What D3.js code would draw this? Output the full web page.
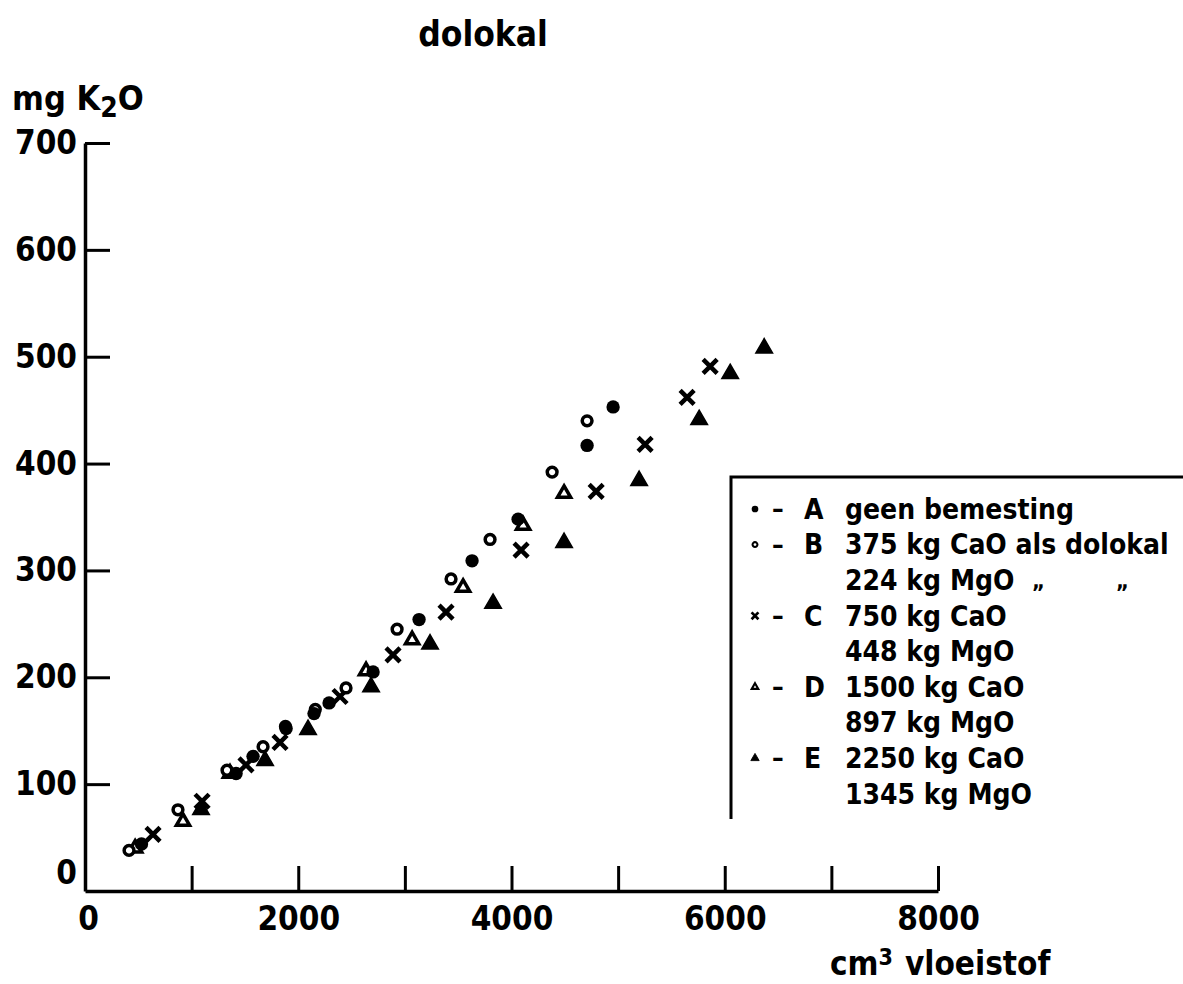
<!DOCTYPE html>
<html>
<head>
<meta charset="utf-8">
<script src="https://cdn.jsdelivr.net/npm/d3@7.9.0/dist/d3.min.js"></script>
<style>
  body { margin: 0; background: #fff; }
  svg text { font-family: "DejaVu Sans Condensed", "DejaVu Sans", sans-serif; font-weight: bold; fill: #000; }
</style>
</head>
<body>
<svg id="chart" width="1183" height="984"></svg>
<script>
// values: [cm3 vloeistof, mg K2O]
const seriesA = [[530, 44], [1417, 110], [1576, 126], [1886, 152], [2148, 166], [2289, 176],
  [2702, 205], [3133, 254], [3630, 309], [4062, 348], [4709, 417], [4953, 453]];
const seriesB = [[413, 38], [872, 76], [1332, 113], [1670, 135], [1880, 154], [2160, 170],
  [2448, 190], [2927, 245], [3433, 292], [3799, 329], [4381, 392], [4709, 440]];
const seriesC = [[638, 53], [1098, 84], [1510, 118], [1829, 139], [2392, 182], [2889, 221],
  [3386, 261], [4090, 319], [4794, 374], [5253, 418], [5647, 462], [5863, 491]];
const seriesD = [[470, 40], [919, 65], [1360, 110], [2636, 206], [3068, 235], [3546, 284],
  [4109, 342], [4493, 372]];
const seriesE = [[1088, 76], [1689, 122], [2092, 151], [2683, 191], [3236, 231], [3827, 269],
  [4493, 326], [5197, 384], [5760, 441], [6051, 484], [6370, 508]];

const xTicks = [0, 1000, 2000, 3000, 4000, 5000, 6000, 7000, 8000];
const xLabels = [0, 2000, 4000, 6000, 8000];
const yTicks = [0, 100, 200, 300, 400, 500, 600, 700];

const legendRows = [
  { mark: 'A', letter: 'A', text: 'geen bemesting' },
  { mark: 'B', letter: 'B', text: '375 kg CaO als dolokal' },
  { mark: null, letter: '', text: '224 kg MgO' },
  { mark: 'C', letter: 'C', text: '750 kg CaO' },
  { mark: null, letter: '', text: '448 kg MgO' },
  { mark: 'D', letter: 'D', text: '1500 kg CaO' },
  { mark: null, letter: '', text: '897 kg MgO' },
  { mark: 'E', letter: 'E', text: '2250 kg CaO' },
  { mark: null, letter: '', text: '1345 kg MgO' }
];

const svg = d3.select('#chart');
const x = d3.scaleLinear().domain([0, 8000]).range([85, 938]);
const y = d3.scaleLinear().domain([0, 700]).range([891, 143]);

// x axis, ticks pointing up into the plot
const xAxis = svg.append('g')
  .attr('transform', `translate(0,${y(0)})`)
  .call(d3.axisBottom(x).tickValues(xTicks).tickSizeInner(-25).tickSizeOuter(0)
    .tickFormat(d => xLabels.includes(d) ? d : ''));
xAxis.select('.domain').attr('stroke', '#000').attr('stroke-width', 3.5);
xAxis.selectAll('.tick line').attr('stroke', '#000').attr('stroke-width', 3);
xAxis.selectAll('.tick text')
  .attr('y', 16).attr('dy', '0.71em')
  .style('font-size', '33px');
xAxis.selectAll('.tick text').filter(d => d === 0).attr('dx', 3);

// y axis, ticks pointing right into the plot
const yAxis = svg.append('g')
  .attr('transform', `translate(${x(0)},0)`)
  .call(d3.axisLeft(y).tickValues(yTicks).tickSizeInner(-25).tickSizeOuter(0));
yAxis.select('.domain').attr('stroke', '#000').attr('stroke-width', 3.5);
yAxis.selectAll('.tick line').attr('stroke', '#000').attr('stroke-width', 3);
yAxis.selectAll('.tick text')
  .attr('x', -8)
  .style('font-size', '33px');
yAxis.selectAll('.tick text').filter(d => d === 0).attr('y', -18);
yAxis.selectAll('.tick').filter(d => d === 0).select('line').remove();

// titles
svg.append('text').attr('x', 483).attr('y', 46).attr('text-anchor', 'middle')
  .style('font-size', '35px').text('dolokal');

const yTitle = svg.append('text').attr('x', 12).attr('y', 110).style('font-size', '34px');
yTitle.append('tspan').text('mg K');
yTitle.append('tspan').attr('dy', 7).style('font-size', '28px').text('2');
yTitle.append('tspan').attr('dy', -7).text('O');

const xTitle = svg.append('text').attr('x', 830).attr('y', 975).style('font-size', '33px');
xTitle.append('tspan').text('cm');
xTitle.append('tspan').attr('dy', -10).style('font-size', '23px').text('3');
xTitle.append('tspan').attr('dy', 10).attr('dx', 12).text('vloeistof');

// marker styles
const styles = {
  A: { type: d3.symbolCircle, size: 140, fill: '#000', stroke: 'none', sw: 0 },
  B: { type: d3.symbolCircle, size: 75, fill: '#fff', stroke: '#000', sw: 3.5 },
  C: { type: d3.symbolTimes, size: 130, fill: 'none', stroke: '#000', sw: 4.5 },
  D: { type: d3.symbolTriangle, size: 75, fill: '#fff', stroke: '#000', sw: 3.5 },
  E: { type: d3.symbolTriangle, size: 120, fill: '#000', stroke: '#000', sw: 1.5 }
};

const allSeries = [['E', seriesE], ['D', seriesD], ['C', seriesC], ['B', seriesB], ['A', seriesA]];
allSeries.forEach(([key, data]) => {
  const s = styles[key];
  svg.append('g').selectAll('path')
    .data(data)
    .join('path')
    .attr('d', d3.symbol().type(s.type).size(s.size))
    .attr('transform', d => `translate(${x(d[0])},${y(d[1])})`)
    .attr('fill', s.fill)
    .attr('stroke', s.stroke)
    .attr('stroke-width', s.sw);
});

// legend box (open at right and bottom)
const lg = svg.append('g');
lg.append('path')
  .attr('d', 'M731,819 V477 H1183')
  .attr('fill', 'none').attr('stroke', '#000').attr('stroke-width', 3);

legendRows.forEach((r, i) => {
  const cy = 509 + i * 35.6;
  if (r.mark) {
    const s = styles[r.mark];
    lg.append('path')
      .attr('d', d3.symbol().type(s.type).size(s.size * 0.25))
      .attr('transform', `translate(755,${cy})`)
      .attr('fill', s.fill).attr('stroke', s.stroke).attr('stroke-width', s.sw * 0.6);
    lg.append('text').attr('x', 772).attr('y', cy).attr('dy', '0.35em')
      .style('font-size', '26px').text('–');
    lg.append('text').attr('x', 804).attr('y', cy).attr('dy', '0.35em')
      .style('font-size', '28px').text(r.letter);
  }
  lg.append('text').attr('x', 845).attr('y', cy).attr('dy', '0.35em')
    .style('font-size', '28px').text(r.text);
});
lg.append('text').attr('x', 1032).attr('y', 588).style('font-size', '22px').text('„');
lg.append('text').attr('x', 1116).attr('y', 588).style('font-size', '22px').text('„');
</script>
</body>
</html>
